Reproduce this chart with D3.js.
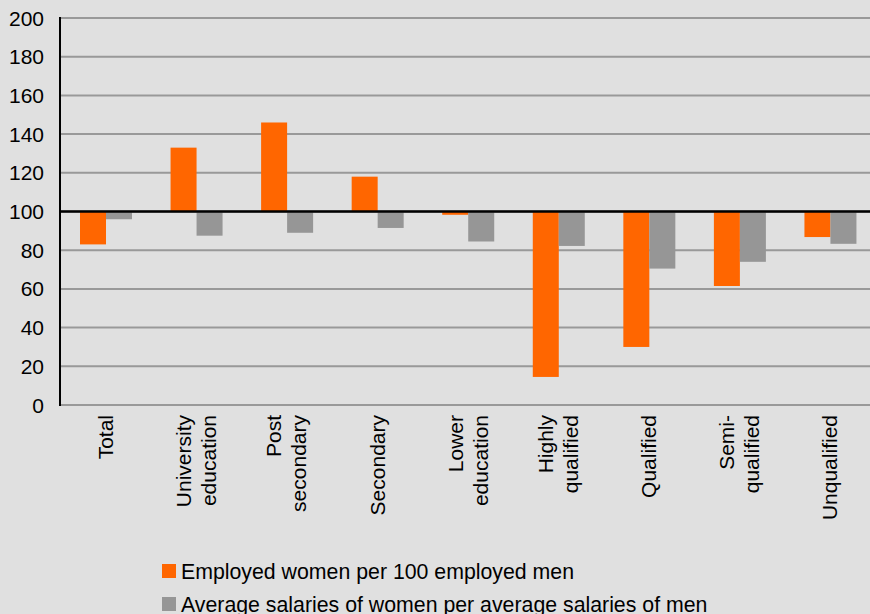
<!DOCTYPE html>
<html><head><meta charset="utf-8">
<script src="https://cdn.jsdelivr.net/npm/d3@7"></script>
<style>html,body{margin:0;padding:0;background:#e0e0e0;}svg{display:block;}</style>
</head><body>
<script>
const categories = [["Total"],["University","education"],["Post","secondary"],["Secondary"],["Lower","education"],["Highly","qualified"],["Qualified"],["Semi-","qualified"],["Unqualified"]];
const employed = [83, 133, 146, 118, 98.3, 14.5, 30, 61.5, 86.8];
const salaries = [96, 87.5, 89, 91.5, 84.5, 82.2, 70.5, 74, 83.3];
const seriesNames = ["Employed women per 100 employed men","Average salaries of women per average salaries of men"];
const colors = ["#ff6600","#969696"];
const yTicks = [0,20,40,60,80,100,120,140,160,180,200];

(function(){
const W=870,H=614;
const svg=d3.select("body").append("svg").attr("width",W).attr("height",H);
svg.append("rect").attr("width",W).attr("height",H).attr("fill","#e0e0e0");
const mLeft=60,mRight=875,mTop=18,mBottom=405;
const y=d3.scaleLinear().domain([0,200]).range([mBottom,mTop]);
const keys=categories.map(c=>c.join(" "));
const x0=d3.scaleBand().domain(keys).range([mLeft,mRight]);
const x1=d3.scaleBand().domain([0,1]).range([20,72]);
const font="'Liberation Sans', Arial, sans-serif";

svg.append("g").selectAll("line").data(yTicks).join("line")
  .attr("x1",mLeft).attr("x2",W).attr("y1",d=>y(d)).attr("y2",d=>y(d))
  .attr("stroke","#999").attr("stroke-width",2);

svg.append("g").selectAll("text").data(yTicks).join("text")
  .attr("x",44).attr("y",d=>y(d)).attr("dy","0.36em").attr("text-anchor","end")
  .attr("font-family",font).attr("font-size",21).attr("fill","#000").text(d=>d);

const data=keys.map((k,i)=>({k,vals:[employed[i],salaries[i]]}));
const g=svg.append("g");
data.forEach(d=>{
  d.vals.forEach((v,j)=>{
    g.append("rect")
      .attr("x",x0(d.k)+x1(j)).attr("width",x1.bandwidth())
      .attr("y",y(Math.max(v,100))).attr("height",Math.abs(y(v)-y(100)))
      .attr("fill",colors[j]);
  });
});

svg.append("line").attr("x1",mLeft).attr("x2",W).attr("y1",y(100)).attr("y2",y(100))
  .attr("stroke","#000").attr("stroke-width",2.6);
svg.append("line").attr("x1",mLeft).attr("x2",mLeft).attr("y1",mTop-1).attr("y2",mBottom+1)
  .attr("stroke","#000").attr("stroke-width",2);

categories.forEach((lines,i)=>{
  const cx=x0(keys[i])+x0.bandwidth()/2;
  const n=lines.length, lh=25;
  lines.forEach((t,j)=>{
    const off=(j-(n-1)/2)*lh;
    svg.append("text")
      .attr("transform",`translate(${cx+off},415) rotate(-90)`)
      .attr("dy","0.36em").attr("text-anchor","end")
      .attr("font-family",font).attr("font-size",21).attr("fill","#000").text(t);
  });
});

seriesNames.forEach((s,i)=>{
  const ly=564+i*33;
  svg.append("rect").attr("x",162).attr("y",ly).attr("width",14).attr("height",14).attr("fill",colors[i]);
  svg.append("text").attr("x",181).attr("y",ly+7).attr("dy","0.36em")
    .attr("font-family",font).attr("font-size",21.3).attr("fill","#000").text(s);
});
})();
</script>
</body></html>
